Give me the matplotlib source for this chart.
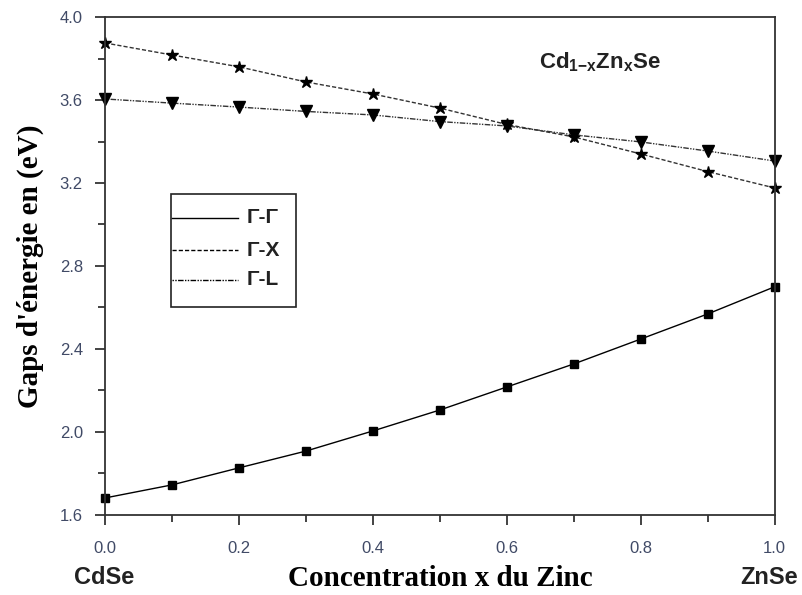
import numpy as np
import matplotlib
matplotlib.use("Agg")
import matplotlib.pyplot as plt
from matplotlib.ticker import MultipleLocator
from matplotlib.patches import Rectangle

plt.rcParams['mathtext.fontset'] = 'custom'
plt.rcParams['mathtext.rm'] = 'Liberation Sans:bold'
plt.rcParams['mathtext.it'] = 'Liberation Sans:bold'
plt.rcParams['mathtext.bf'] = 'Liberation Sans:bold'

# Zn concentration and band gaps (eV)
x = [0.0, 0.1, 0.2, 0.3, 0.4, 0.5, 0.6, 0.7, 0.8, 0.9, 1.0]
gap_gg = [1.682, 1.745, 1.827, 1.908, 2.005, 2.106, 2.217, 2.328, 2.448, 2.569, 2.700]
gap_gx = [3.875, 3.817, 3.760, 3.687, 3.629, 3.561, 3.482, 3.422, 3.340, 3.255, 3.176]
gap_gl = [3.605, 3.585, 3.566, 3.545, 3.528, 3.496, 3.475, 3.432, 3.398, 3.354, 3.306]

labels = ['Γ-Γ', 'Γ-X', 'Γ-L']
styles = ['-', (0, (3, 1.5)), (0, (1, 1, 1, 1, 4, 1))]

fig = plt.figure(figsize=(8.03, 5.95), dpi=100)
ax = fig.add_axes([0.1308, 0.1345, 0.834, 0.8369])

ax.plot(x, gap_gg, color='black', lw=1.0, ls=styles[0], marker='s', ms=6, clip_on=False)
ax.plot(x, gap_gx, color='#333333', lw=1.0, ls=styles[1], marker='*', ms=9,
        mfc='black', mec='black', clip_on=False)
ax.plot(x, gap_gl, color='#333333', lw=1.0, ls=styles[2], marker='v', ms=8,
        mfc='black', mec='black', clip_on=False)

ax.set_xlim(0, 1.0)
ax.set_ylim(1.6, 4.0)
ax.xaxis.set_major_locator(MultipleLocator(0.2))
ax.xaxis.set_minor_locator(MultipleLocator(0.1))
ax.yaxis.set_major_locator(MultipleLocator(0.4))
ax.yaxis.set_minor_locator(MultipleLocator(0.2))
ax.tick_params(which='major', direction='out', length=7, width=1.2, colors='#222222',
               labelcolor='#404a66', labelsize=12)
ax.tick_params(axis='x', which='major', pad=12)
ax.tick_params(axis='y', which='major', pad=9)
ax.tick_params(which='minor', direction='out', length=5, width=1.2, colors='#222222')
for lab in ax.get_xticklabels() + ax.get_yticklabels():
    lab.set_family('Liberation Sans')
for s in ax.spines.values():
    s.set_linewidth(1.3)
    s.set_color('#333333')

ax.set_xlabel('Concentration x du Zinc', family='Liberation Serif', fontweight='bold',
              fontsize=21, labelpad=6)
ax.set_ylabel("Gaps d'énergie en (eV)", family='Liberation Serif', fontweight='bold',
              fontsize=21, labelpad=11)

ax.text(-0.001, -0.125, 'CdSe', transform=ax.transAxes, ha='center', va='center',
        family='Liberation Sans', fontweight='bold', fontsize=17, color='#222222')
ax.text(0.991, -0.125, 'ZnSe', transform=ax.transAxes, ha='center', va='center',
        family='Liberation Sans', fontweight='bold', fontsize=17, color='#222222')

ax.text(0.739, 0.91, r'Cd$_{1\mathrm{-}x}$Zn$_x$Se', transform=ax.transAxes, ha='center',
        va='center', family='Liberation Sans', fontweight='bold', fontsize=16, color='#222222')

# legend box: line samples only, no markers
ax.add_patch(Rectangle((0.0985, 0.4177), 0.1865, 0.2269, transform=ax.transAxes,
                       fill=False, ec='#222222', lw=1.2))
rows = [0.5964, 0.532, 0.4719]
for lab, st, yr in zip(labels, styles, rows):
    ax.plot([0.1, 0.1985], [yr, yr], transform=ax.transAxes, color='black', lw=1.0, ls=st)
    ax.text(0.212, yr, lab, transform=ax.transAxes, ha='left', va='center',
            family='Liberation Sans', fontweight='bold', fontsize=15, color='#222222')

fig.savefig('out.png', dpi=100)
